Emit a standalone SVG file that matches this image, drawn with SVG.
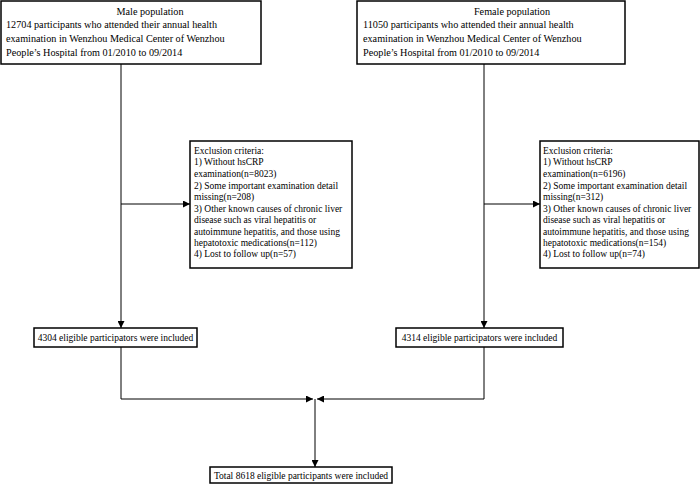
<svg xmlns="http://www.w3.org/2000/svg" width="700" height="491" viewBox="0 0 700 491">
<style>
.box{fill:#fff;stroke:#000;stroke-width:1.5}
.t{font-family:"Liberation Serif","Times New Roman",serif;fill:#000}
.big{font-size:10.2px}
.sm{font-size:9.5px}
.ln{fill:none;stroke:#000;stroke-width:1}
</style>
<defs>
<marker id="ah" viewBox="0 0 10 10" refX="10" refY="5" markerWidth="8" markerHeight="7" markerUnits="userSpaceOnUse" orient="auto">
<path d="M0,0 L10,5 L0,10 z" fill="#000"/>
</marker>
</defs>
<g id="connectors">
<path class="ln" d="M121,64 V328" marker-end="url(#ah)"/>
<path class="ln" d="M121,204 H190" marker-end="url(#ah)"/>
<path class="ln" d="M484,64 V328" marker-end="url(#ah)"/>
<path class="ln" d="M484,204 H540" marker-end="url(#ah)"/>
<path class="ln" d="M121,347 V399 H313" marker-end="url(#ah)"/>
<path class="ln" d="M484,347 V399 H317" marker-end="url(#ah)"/>
<path class="ln" d="M315,399 V467" marker-end="url(#ah)"/>
</g>
<g id="male">
<rect class="box" x="1" y="1" width="260" height="63"/>
<text class="t big" x="150" y="15" text-anchor="middle">Male population</text>
<text class="t big" x="6" y="28">12704 participants who attended their annual health</text>
<text class="t big" x="6" y="42">examination in Wenzhou Medical Center of Wenzhou</text>
<text class="t big" x="6" y="56">People’s Hospital from 01/2010 to 09/2014</text>
</g>
<g id="female">
<rect class="box" x="357" y="1" width="268" height="63"/>
<text class="t big" x="512" y="15" text-anchor="middle">Female population</text>
<text class="t big" x="363" y="28">11050 participants who attended their annual health</text>
<text class="t big" x="363" y="42">examination in Wenzhou Medical Center of Wenzhou</text>
<text class="t big" x="363" y="56">People’s Hospital from 01/2010 to 09/2014</text>
</g>
<g id="male-exclusion">
<rect class="box" x="190" y="141" width="162" height="127"/>
<text class="t sm" x="194" y="154">Exclusion criteria:</text>
<text class="t sm" x="194" y="165">1) Without hsCRP</text>
<text class="t sm" x="194" y="177">examination(n=8023)</text>
<text class="t sm" x="194" y="189">2) Some important examination detail</text>
<text class="t sm" x="194" y="200">missing(n=208)</text>
<text class="t sm" x="194" y="212">3) Other known causes of chronic liver</text>
<text class="t sm" x="194" y="223">disease such as viral hepatitis or</text>
<text class="t sm" x="194" y="235">autoimmune hepatitis, and those using</text>
<text class="t sm" x="194" y="246">hepatotoxic medications(n=112)</text>
<text class="t sm" x="194" y="257">4) Lost to follow up(n=57)</text>
</g>
<g id="female-exclusion">
<rect class="box" x="540" y="141" width="159" height="127"/>
<text class="t sm" x="543" y="154">Exclusion criteria:</text>
<text class="t sm" x="543" y="165">1) Without hsCRP</text>
<text class="t sm" x="543" y="177">examination(n=6196)</text>
<text class="t sm" x="543" y="189">2) Some important examination detail</text>
<text class="t sm" x="543" y="200">missing(n=312)</text>
<text class="t sm" x="543" y="212">3) Other known causes of chronic liver</text>
<text class="t sm" x="543" y="223">disease such as viral hepatitis or</text>
<text class="t sm" x="543" y="235">autoimmune hepatitis, and those using</text>
<text class="t sm" x="543" y="246">hepatotoxic medications(n=154)</text>
<text class="t sm" x="543" y="257">4) Lost to follow up(n=74)</text>
</g>
<g id="male-included">
<rect class="box" x="34" y="328" width="163" height="19"/>
<text class="t sm" x="115.5" y="341" text-anchor="middle">4304 eligible participators were included</text>
</g>
<g id="female-included">
<rect class="box" x="396" y="328" width="167" height="19"/>
<text class="t sm" x="479.5" y="341" text-anchor="middle">4314 eligible participators were included</text>
</g>
<g id="total">
<rect class="box" x="210" y="467" width="182" height="16"/>
<text class="t sm" x="301" y="479" text-anchor="middle">Total 8618 eligible participants were included</text>
</g>
</svg>
